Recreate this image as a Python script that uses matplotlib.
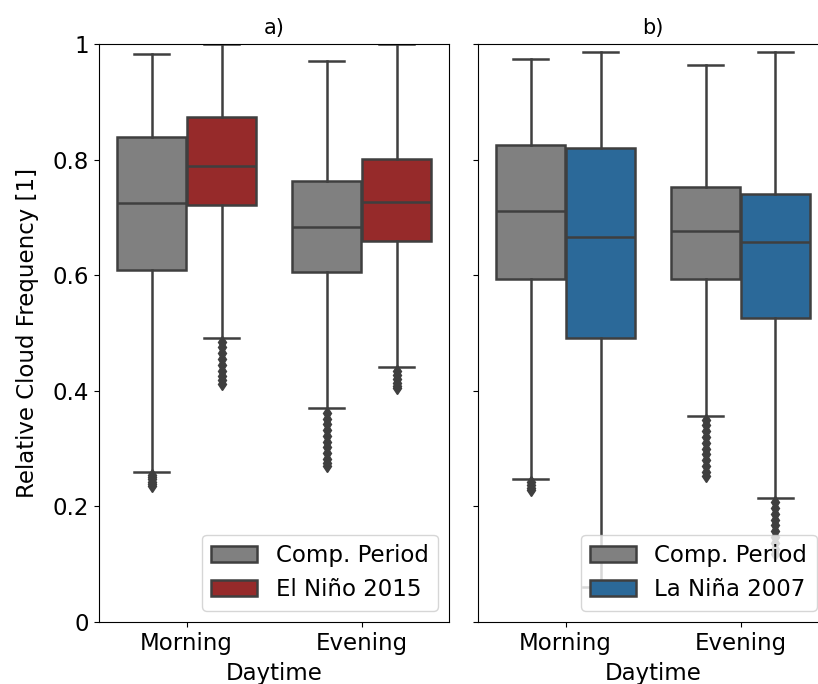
import matplotlib.pyplot as plt
import numpy as np

# categories and series
daytimes = ["Morning", "Evening"]
labels_a = ["Comp. Period", "El Niño 2015"]
labels_b = ["Comp. Period", "La Niña 2007"]

# box stats: [whislo, q1, med, q3, whishi]
comp_a = [[0.260, 0.609, 0.725, 0.839, 0.983],
          [0.370, 0.606, 0.684, 0.763, 0.971]]
nino = [[0.491, 0.721, 0.789, 0.874, 1.000],
        [0.441, 0.659, 0.727, 0.801, 1.000]]
comp_b = [[0.247, 0.593, 0.711, 0.825, 0.974],
          [0.357, 0.593, 0.677, 0.753, 0.964]]
nina = [[0.060, 0.491, 0.666, 0.820, 0.986],
        [0.214, 0.526, 0.658, 0.741, 0.986]]

# outliers (dense columns of points below the lower whisker)
fl_comp_a = [[0.255, 0.251, 0.247, 0.243, 0.239, 0.235],
             [0.362, 0.352, 0.342, 0.332, 0.322, 0.312, 0.302, 0.292, 0.282, 0.275, 0.270]]
fl_nino = [[0.485, 0.475, 0.465, 0.455, 0.445, 0.435, 0.425, 0.418, 0.412],
           [0.435, 0.428, 0.421, 0.414, 0.408, 0.404]]
fl_comp_b = [[0.242, 0.237, 0.232, 0.228],
             [0.350, 0.340, 0.330, 0.320, 0.310, 0.300, 0.290, 0.280, 0.270, 0.260, 0.252]]
fl_nina = [[],
           [0.207, 0.197, 0.187, 0.177, 0.167, 0.157, 0.147, 0.137, 0.127, 0.117]]

GRAY = "#808080"
RED = "#962a2a"
BLUE = "#2b6999"
LINE = "#3f3f3f"
FS = 16.5


def make_stats(vals, fliers):
    out = []
    for v, f in zip(vals, fliers):
        out.append(dict(whislo=v[0], q1=v[1], med=v[2], q3=v[3], whishi=v[4],
                        fliers=np.array(f)))
    return out


def draw(ax, s1, f1, s2, f2, c2, labs, title):
    x = np.arange(len(daytimes))
    handles = []
    for stats, fl, off, col in [(s1, f1, -0.2, GRAY), (s2, f2, 0.2, c2)]:
        bp = ax.bxp(make_stats(stats, fl), positions=x + off, widths=0.39,
                    patch_artist=True, manage_ticks=False,
                    boxprops=dict(facecolor=col, edgecolor=LINE, linewidth=1.8),
                    medianprops=dict(color=LINE, linewidth=1.8),
                    whiskerprops=dict(color=LINE, linewidth=1.8),
                    capprops=dict(color=LINE, linewidth=1.8),
                    flierprops=dict(marker="d", markersize=6.5, markerfacecolor=LINE,
                                    markeredgecolor=LINE, linestyle="none"))
        handles.append(bp["boxes"][0])
    ax.set_xticks(x)
    ax.set_xticklabels(daytimes, fontsize=FS)
    ax.set_xlim(-0.5, 1.5)
    ax.set_ylim(0, 1)
    ax.set_xlabel("Daytime", fontsize=FS, labelpad=5)
    ax.set_title(title, fontsize=15, pad=7)
    ax.legend(handles, labs, loc="lower right", fontsize=FS, borderaxespad=0.5)


fig = plt.figure(figsize=(8.18, 6.84), dpi=100)
ax1 = fig.add_axes([99 / 818, 62 / 684, 350 / 818, 578 / 684])
ax2 = fig.add_axes([478 / 818, 62 / 684, 350 / 818, 578 / 684], sharey=ax1)

draw(ax1, comp_a, fl_comp_a, nino, fl_nino, RED, labels_a, "a)")
draw(ax2, comp_b, fl_comp_b, nina, fl_nina, BLUE, labels_b, "b)")

ax1.set_yticks([0, 0.2, 0.4, 0.6, 0.8, 1])
ax1.set_yticklabels(["0", "0.2", "0.4", "0.6", "0.8", "1"], fontsize=FS)
ax1.set_ylabel("Relative Cloud Frequency [1]", fontsize=FS, labelpad=10)
plt.setp(ax2.get_yticklabels(), visible=False)

fig.savefig("out.png", dpi=100)
